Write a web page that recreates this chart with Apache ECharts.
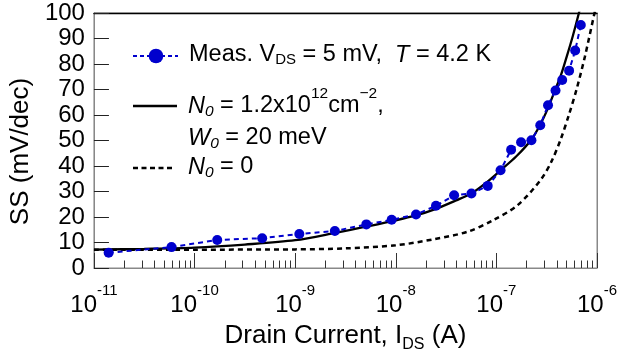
<!DOCTYPE html>
<html><head><meta charset="utf-8">
<script src="https://cdn.jsdelivr.net/npm/echarts@6/dist/echarts.min.js"></script>
<style>html,body{margin:0;padding:0;background:#fff}#c{width:621px;height:358px}</style>
</head><body><div id="c"></div>
<script>
// Measured data: drain current (A) and subthreshold swing (mV/dec)
const measI  = [1.4e-11, 5.9e-11, 1.68e-10, 4.7e-10, 1.10e-9, 2.48e-9, 5.1e-9, 9.1e-9, 1.59e-8, 2.51e-8,
                3.8e-8, 5.65e-8, 8.2e-8, 1.10e-7, 1.40e-7, 1.76e-7, 2.23e-7, 2.73e-7, 3.26e-7, 3.87e-7,
                4.51e-7, 5.28e-7, 6.07e-7, 6.90e-7];
const measSS = [6.0, 8.2, 11.0, 11.7, 13.3, 14.5, 17.1, 18.9, 21.0, 24.4,
                28.5, 29.2, 32.2, 38.3, 46.4, 49.3, 50.1, 56.0, 63.8, 69.6,
                73.7, 77.4, 85.3, 95.3];
// Model with band tail N0 = 1.2e12 cm^-2, W0 = 20 meV
const fitI  = [1.0e-11, 3.16e-11, 1.0e-10, 3.16e-10, 1.0e-9, 2.51e-9, 5.01e-9, 1.0e-8, 1.58e-8, 2.51e-8,
               3.98e-8, 5.62e-8, 7.94e-8, 1.10e-7, 1.58e-7, 2.24e-7, 2.75e-7, 3.24e-7, 3.72e-7, 4.37e-7,
               5.01e-7, 5.75e-7, 6.61e-7, 7.08e-7];
const fitSS = [7.2, 7.5, 8.0, 9.2, 10.9, 13.8, 16.2, 18.7, 20.6, 23.2,
               26.5, 29.2, 33.5, 38.3, 43.8, 50.5, 56.5, 62.5, 68.5, 75.5,
               83.0, 91.0, 100.0, 105.0];
// Model with N0 = 0
const idealI  = [1.0e-11, 1.0e-10, 1.0e-9, 3.16e-9, 1.0e-8, 2.4e-8, 5.25e-8, 9.33e-8, 1.62e-7, 2.75e-7,
                 3.55e-7, 4.37e-7, 5.25e-7, 6.31e-7, 7.59e-7, 9.33e-7, 1.0e-6];
const idealSS = [7.2, 7.2, 7.3, 7.7, 8.9, 11.3, 14.3, 18.8, 24.6, 34.5,
                 42.0, 50.6, 60.0, 70.5, 83.0, 99.0, 104.0];
// Axis tick labels
const xDecadeExponents = [-11, -10, -9, -8, -7, -6];
const yMin = 0, yMax = 100, yStep = 10;

const FONT = '"Liberation Sans", Arial, sans-serif';
const BLUE = '#0000cd';
const pair = (xs, ys) => xs.map((x, i) => [x, ys[i]]);
const minorTicks = [];
for (let i = 0; i < xDecadeExponents.length - 1; i++)
  for (let k = 2; k <= 9; k++) minorTicks.push(xDecadeExponents[i] + Math.log10(k));

const chart = echarts.init(document.getElementById('c'));
const txt = (size, extra) => Object.assign({fontSize: size, fontFamily: FONT, color: '#000'}, extra || {});
const gtxt = (size, extra) => Object.assign({fontSize: size, fontFamily: FONT, fill: '#000'}, extra || {});

chart.setOption({
  animation: false,
  grid: {left: 91, right: 24, top: 13, bottom: 88, show: true, borderColor: '#888', borderWidth: 1},
  xAxis: [
    {type: 'log', min: 1e-11, max: 1e-6, show: false},
    {type: 'value', min: xDecadeExponents[0], max: xDecadeExponents[xDecadeExponents.length - 1], interval: 1,
     position: 'bottom', splitLine: {show: false},
     axisLine: {show: true, lineStyle: {color: '#888', width: 1}},
     axisTick: {inside: true, length: 15, lineStyle: {color: '#333', width: 1}},
     axisLabel: {margin: 15, formatter: v => '{b|10}{s|' + v + '}',
       rich: {b: txt(24), s: txt(15, {padding: [0, 0, 29, 0]})}},
     name: 'Drain Current, I{sub|DS} (A)', nameLocation: 'middle', nameGap: 51,
     nameTextStyle: txt(26, {rich: {sub: txt(16, {padding: [18, 0, 0, 0]})}})},
    {type: 'value', min: xDecadeExponents[0], max: xDecadeExponents[xDecadeExponents.length - 1],
     position: 'bottom', splitLine: {show: false}, axisLine: {show: false}, axisLabel: {show: false},
     axisTick: {inside: true, length: 7.5, customValues: minorTicks, lineStyle: {color: '#333', width: 1}}},
    {type: 'value', min: xDecadeExponents[0], max: xDecadeExponents[xDecadeExponents.length - 1],
     position: 'top', splitLine: {show: false}, axisTick: {show: false}, axisLabel: {show: false},
     axisLine: {show: true, lineStyle: {color: '#000', width: 1.3}}}
  ],
  yAxis: [
    {type: 'value', min: yMin, max: yMax, interval: yStep, splitLine: {show: false},
     axisLine: {show: true, lineStyle: {color: '#888', width: 1}},
     axisTick: {inside: true, length: 15, lineStyle: {color: '#222', width: 1}},
     axisLabel: txt(24, {margin: 9}),
     name: 'SS (mV/dec)', nameLocation: 'middle', nameRotate: 90, nameGap: 58,
     nameTextStyle: txt(26, {padding: [0, 22, 0, 0]})},
    {type: 'value', min: yMin, max: yMax, position: 'right', splitLine: {show: false},
     axisTick: {show: false}, axisLabel: {show: false},
     axisLine: {show: true, lineStyle: {color: '#888', width: 1}}}
  ],
  series: [
    {name: 'ideal', type: 'line', xAxisIndex: 0, yAxisIndex: 0, data: pair(idealI, idealSS),
     symbol: 'none', smooth: 0.3, lineStyle: {color: '#000', width: 2.5, type: [5, 4]}, z: 2},
    {name: 'fit', type: 'line', xAxisIndex: 0, yAxisIndex: 0, data: pair(fitI, fitSS),
     symbol: 'none', smooth: 0.3, lineStyle: {color: '#000', width: 2.3}, z: 3},
    {name: 'meas', type: 'line', xAxisIndex: 0, yAxisIndex: 0, data: pair(measI, measSS),
     symbol: 'circle', symbolSize: 10, itemStyle: {color: BLUE},
     lineStyle: {color: BLUE, width: 2, type: [5, 4]}, z: 4}
  ],
  graphic: [
    {type: 'line', shape: {x1: 133, y1: 56, x2: 178, y2: 56}, style: {stroke: BLUE, lineWidth: 2, lineDash: [4, 3]}},
    {type: 'circle', shape: {cx: 156, cy: 56, r: 7.3}, style: {fill: BLUE}},
    {type: 'text', x: 189, y: 55, style: gtxt(23.5, {verticalAlign: 'middle',
      text: 'Meas. V{sub|DS} = 5 mV,  {i|T} = 4.2 K',
      rich: {sub: gtxt(15, {padding: [10, 0, 0, 0]}), i: gtxt(23.5, {fontStyle: 'italic'})}})},
    {type: 'line', shape: {x1: 133, y1: 106, x2: 177, y2: 106}, style: {stroke: '#000', lineWidth: 2.5}},
    {type: 'text', x: 188, y: 106, style: gtxt(23.5, {verticalAlign: 'middle',
      text: '{i|N}{isub|0} = 1.2x10{sup|12}cm{sup|\u22122},',
      rich: {i: gtxt(23.5, {fontStyle: 'italic'}), isub: gtxt(15.5, {fontStyle: 'italic', padding: [11, 0, 0, 0]}),
             sup: gtxt(15.5, {padding: [0, 0, 25, 0]})}})},
    {type: 'text', x: 188, y: 138, style: gtxt(23.5, {verticalAlign: 'middle',
      text: '{i|W}{isub|0} = 20 meV',
      rich: {i: gtxt(23.5, {fontStyle: 'italic'}), isub: gtxt(15.5, {fontStyle: 'italic', padding: [11, 0, 0, 0]})}})},
    {type: 'line', shape: {x1: 133, y1: 168, x2: 174, y2: 168}, style: {stroke: '#000', lineWidth: 2.5, lineDash: [5, 3.5]}},
    {type: 'text', x: 188, y: 167, style: gtxt(23.5, {verticalAlign: 'middle',
      text: '{i|N}{isub|0} = 0',
      rich: {i: gtxt(23.5, {fontStyle: 'italic'}), isub: gtxt(15.5, {fontStyle: 'italic', padding: [11, 0, 0, 0]})}})}
  ]
});
</script></body></html>
